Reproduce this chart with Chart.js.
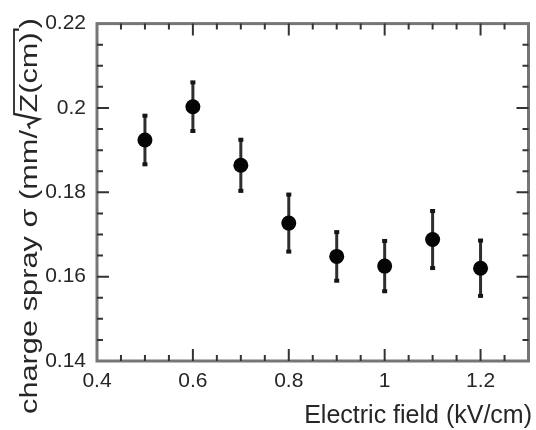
<!DOCTYPE html>
<html>
<head>
<meta charset="utf-8">
<script src="https://cdn.jsdelivr.net/npm/chart.js@4.4.0/dist/chart.umd.min.js"></script>
<style>
  html, body { margin: 0; padding: 0; background: #fff; }
  #wrap { width: 536px; height: 430px; }
  /* the source image is a soft, low-res scan */
  #myChart { filter: blur(0.5px); }
</style>
</head>
<body>
<div id="wrap"><canvas id="myChart" width="536" height="430"></canvas></div>
<script>
// measured points: field in kV/cm, spray sigma and its error
const fieldKV = [0.5, 0.6, 0.7, 0.8, 0.9, 1.0, 1.1, 1.2];
const spraySigma = [0.1924, 0.2003, 0.1864, 0.1727, 0.1648, 0.1625, 0.1688, 0.1620];
const sprayErr = [0.0060, 0.0060, 0.0063, 0.0070, 0.0060, 0.0062, 0.0070, 0.0068];

// axis ticks
const xTicks = [0.4, 0.6, 0.8, 1.0, 1.2];
const xTickLabels = ['0.4', '0.6', '0.8', '1', '1.2'];
const yTicks = [0.14, 0.16, 0.18, 0.2, 0.22];
const yTickLabels = ['0.14', '0.16', '0.18', '0.2', '0.22'];
const xMinorStep = 0.05, yMinorStep = 0.005;

const xTitle = 'Electric field (kV/cm)';
const yTitleParts = ['charge spray \u03c3 (mm/', 'Z(cm)', ')'];

const FONT = '"Liberation Sans", Arial, sans-serif';
const TEXT_COLOR = '#262626';

function minorList(min, max, step) {
    let out = [];
    let n = Math.round((max - min) / step);
    for (let i = 0; i <= n; i++) out.push(+(min + i * step).toFixed(4));
    return out;
}

// frame, inward ticks on all four sides, error bars and titles
const framePlugin = {
    id: 'frame_ticks',
    beforeDatasetsDraw(chart) {
        const ctx = chart.ctx;
        const x = chart.scales.x, y = chart.scales.y;
        ctx.save();
        fieldKV.forEach((f, i) => {
            const px = x.getPixelForValue(f);
            const top = y.getPixelForValue(spraySigma[i] + sprayErr[i]);
            const bot = y.getPixelForValue(spraySigma[i] - sprayErr[i]);
            ctx.strokeStyle = '#2e2e2e';
            ctx.lineWidth = 3;
            ctx.beginPath();
            ctx.moveTo(px, top);
            ctx.lineTo(px, bot);
            ctx.stroke();
            ctx.fillStyle = '#151515';
            ctx.fillRect(px - 2.5, top - 1, 5, 4);
            ctx.fillRect(px - 2.5, bot - 3, 5, 4);
        });
        ctx.restore();
    },
    afterDraw(chart) {
        const ctx = chart.ctx;
        const a = chart.chartArea;
        const x = chart.scales.x, y = chart.scales.y;
        ctx.save();

        // frame
        ctx.strokeStyle = '#767676';
        ctx.lineWidth = 3;
        ctx.strokeRect(a.left, a.top, a.right - a.left, a.bottom - a.top);

        // ticks
        ctx.strokeStyle = '#333';
        ctx.lineWidth = 2;
        minorList(x.min, x.max, xMinorStep).forEach(v => {
            const px = x.getPixelForValue(v);
            if (px < a.left + 2 || px > a.right - 2) return;
            const len = xTicks.some(t => Math.abs(t - v) < 1e-6) ? 12 : 6;
            ctx.beginPath();
            ctx.moveTo(px, a.bottom); ctx.lineTo(px, a.bottom - len);
            ctx.moveTo(px, a.top); ctx.lineTo(px, a.top + len);
            ctx.stroke();
        });
        minorList(y.min, y.max, yMinorStep).forEach(v => {
            const py = y.getPixelForValue(v);
            if (py < a.top + 2 || py > a.bottom - 2) return;
            const len = yTicks.some(t => Math.abs(t - v) < 1e-6) ? 12 : 6;
            ctx.beginPath();
            ctx.moveTo(a.left, py); ctx.lineTo(a.left + len, py);
            ctx.moveTo(a.right, py); ctx.lineTo(a.right - len, py);
            ctx.stroke();
        });

        // x title
        ctx.fillStyle = TEXT_COLOR;
        ctx.font = '25px ' + FONT;
        ctx.textAlign = 'right';
        ctx.textBaseline = 'alphabetic';
        ctx.fillText(xTitle, 532, 423);

        // y title, rotated, with a drawn square root over Z(cm)
        ctx.font = '23px ' + FONT;
        ctx.textAlign = 'left';
        const w0 = ctx.measureText(yTitleParts[0]).width;
        const w1 = ctx.measureText(yTitleParts[1]).width;
        const w2 = ctx.measureText(yTitleParts[2]).width;
        const rad = 13;
        const total = w0 + rad + w1 + 3 + w2;
        const k = (414 - 18) / total;
        ctx.translate(37, 414);
        ctx.rotate(-Math.PI / 2);
        ctx.scale(k, 1);
        ctx.fillText(yTitleParts[0], 0, 0);
        let u = w0;
        ctx.strokeStyle = TEXT_COLOR;
        ctx.lineWidth = 1.8;
        ctx.beginPath();
        ctx.moveTo(u + 1, -7);
        ctx.lineTo(u + 4, -9);
        ctx.lineTo(u + 8, 2);
        ctx.lineTo(u + 12, -23);
        ctx.lineTo(u + rad + w1 + 2, -23);
        ctx.lineTo(u + rad + w1 + 2, -18);
        ctx.stroke();
        ctx.fillText(yTitleParts[1], u + rad, 0);
        ctx.fillText(yTitleParts[2], u + rad + w1 + 3, 0);
        ctx.restore();
    }
};

const ctx = document.getElementById('myChart').getContext('2d');
const chart = new Chart(ctx, {
    type: 'scatter',
    data: {
        datasets: [{
            data: fieldKV.map((f, i) => ({ x: f, y: spraySigma[i] })),
            pointRadius: 7.5,
            pointHoverRadius: 7.5,
            pointBackgroundColor: '#050505',
            pointBorderColor: '#050505',
            pointBorderWidth: 0,
            showLine: false,
        }],
    },
    options: {
        responsive: false,
        animation: false,
        devicePixelRatio: 1,
        layout: { padding: { top: 16, right: 2, left: 0, bottom: 0 } },
        plugins: { legend: { display: false }, tooltip: { enabled: false } },
        scales: {
            x: {
                type: 'linear',
                min: 0.4,
                max: 1.3,
                grid: { display: false, drawTicks: false },
                border: { display: false },
                afterBuildTicks: (s) => { s.ticks = xTicks.map(v => ({ value: v })); },
                afterFit: (s) => { s.height = 69; },
                ticks: {
                    autoSkip: false,
                    maxRotation: 0,
                    padding: 8,
                    color: TEXT_COLOR,
                    font: { family: FONT, size: 21 },
                    callback: (v) => {
                        const i = xTicks.findIndex(t => Math.abs(t - v) < 1e-6);
                        return i >= 0 ? xTickLabels[i] : '';
                    },
                },
            },
            y: {
                type: 'linear',
                min: 0.14,
                max: 0.22,
                grid: { display: false, drawTicks: false },
                border: { display: false },
                afterBuildTicks: (s) => { s.ticks = yTicks.map(v => ({ value: v })); },
                afterFit: (s) => { s.width = 97; },
                ticks: {
                    autoSkip: false,
                    padding: 11,
                    color: TEXT_COLOR,
                    font: { family: FONT, size: 21 },
                    callback: (v) => {
                        const i = yTicks.findIndex(t => Math.abs(t - v) < 1e-6);
                        return i >= 0 ? yTickLabels[i] : '';
                    },
                },
            },
        },
    },
    plugins: [framePlugin],
});
</script>
</body>
</html>
